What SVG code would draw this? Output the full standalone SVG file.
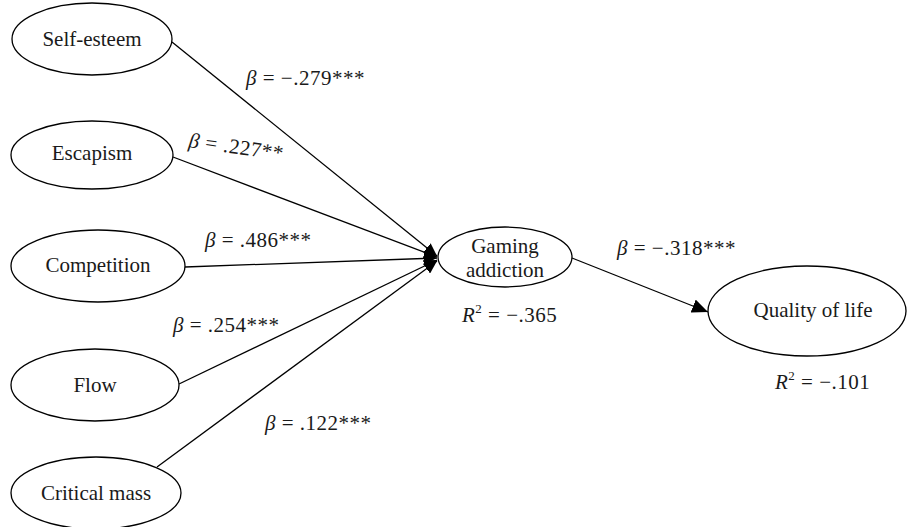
<svg xmlns="http://www.w3.org/2000/svg" width="907" height="527" viewBox="0 0 907 527">
<style>
.node ellipse{fill:#fff;stroke:#000;stroke-width:1.3}
.node text{font-family:"Liberation Serif",serif;font-size:21px;text-anchor:middle;fill:#1a1a1a}
.lbl{font-family:"Liberation Serif",serif;font-size:21px;letter-spacing:0.5px;fill:#1a1a1a}
.conn line{stroke:#000;stroke-width:1.3}
</style>
<defs>
<marker id="ah" markerUnits="userSpaceOnUse" markerWidth="14" markerHeight="12" refX="13" refY="6" orient="auto">
<path d="M0,0 L13,6 L0,12 z" fill="#000"/>
</marker>
<marker id="ah2" markerUnits="userSpaceOnUse" markerWidth="17" markerHeight="14" refX="16" refY="7" orient="auto">
<path d="M0,0 L16,7 L0,14 z" fill="#000"/>
</marker>
</defs>
<g class="conn">
<line x1="172" y1="42" x2="437" y2="256" marker-end="url(#ah)"/>
<line x1="173" y1="157" x2="437" y2="257" marker-end="url(#ah)"/>
<line x1="185" y1="267" x2="437" y2="258" marker-end="url(#ah)"/>
<line x1="179" y1="384" x2="437" y2="260" marker-end="url(#ah)"/>
<line x1="157" y1="467" x2="437" y2="261" marker-end="url(#ah)"/>
<line x1="572" y1="258" x2="708" y2="312" marker-end="url(#ah2)"/>
</g>
<g id="self-esteem" class="node"><ellipse cx="92" cy="39" rx="80" ry="36"/><text x="92" y="46">Self-esteem</text></g>
<g id="escapism" class="node"><ellipse cx="92" cy="155" rx="81" ry="34"/><text x="92" y="160">Escapism</text></g>
<g id="competition" class="node"><ellipse cx="98" cy="266" rx="87" ry="36"/><text x="98" y="272">Competition</text></g>
<g id="flow" class="node"><ellipse cx="95" cy="385" rx="84" ry="36"/><text x="95" y="392">Flow</text></g>
<g id="critical-mass" class="node"><ellipse cx="96" cy="493" rx="85" ry="36"/><text x="96" y="500">Critical mass</text></g>
<g id="gaming-addiction" class="node"><ellipse cx="505" cy="257" rx="67" ry="30"/><text x="505" y="253">Gaming</text><text x="505" y="277">addiction</text></g>
<g id="quality-of-life" class="node"><ellipse cx="807" cy="311" rx="99" ry="45"/><text x="813" y="317">Quality of life</text></g>
<g id="labels">
<text class="lbl" x="246" y="85"><tspan font-style="italic">β</tspan> = −.279***</text>
<text class="lbl" x="188" y="147" transform="rotate(8 188 147)"><tspan font-style="italic">β</tspan> = .227**</text>
<text class="lbl" x="205" y="247"><tspan font-style="italic">β</tspan> = .486***</text>
<text class="lbl" x="173" y="332"><tspan font-style="italic">β</tspan> = .254***</text>
<text class="lbl" x="265" y="430"><tspan font-style="italic">β</tspan> = .122***</text>
<text class="lbl" x="617" y="255"><tspan font-style="italic">β</tspan> = −.318***</text>
<text class="lbl" x="462" y="322"><tspan font-style="italic">R</tspan><tspan font-size="13" dy="-9">2</tspan><tspan dy="9"> = −.365</tspan></text>
<text class="lbl" x="775" y="389"><tspan font-style="italic">R</tspan><tspan font-size="13" dy="-9">2</tspan><tspan dy="9"> = −.101</tspan></text>
</g>
</svg>
